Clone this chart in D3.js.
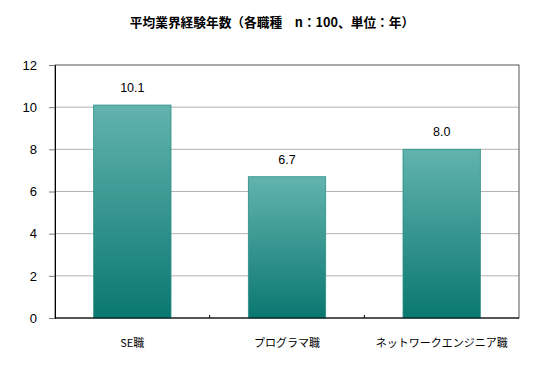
<!DOCTYPE html>
<html>
<head>
<meta charset="utf-8">
<script src="https://cdn.jsdelivr.net/npm/d3@7"></script>
<style>
  body { margin: 0; background: #fff; }
  text { font-family: "Noto Sans CJK JP", sans-serif; }
</style>
</head>
<body>
<div id="chart"></div>
<script>
var titleText = "平均業界経験年数（各職種　n：100、単位：年）";
var categories = ["SE職", "プログラマ職", "ネットワークエンジニア職"];
var values = [10.1, 6.7, 8.0];
var yTicks = [0, 2, 4, 6, 8, 10, 12];

var width = 550, height = 370,
    margin = { top: 65, left: 55, right: 31, bottom: 52 };
var plotW = width - margin.left - margin.right,
    plotH = height - margin.top - margin.bottom;

var svg = d3.select("#chart").append("svg")
    .attr("width", width)
    .attr("height", height);

// gradient for bars, light at top and dark at bottom
var grad = svg.append("defs").append("linearGradient")
    .attr("id", "barGrad")
    .attr("x1", 0).attr("y1", 0).attr("x2", 0).attr("y2", 1);
grad.append("stop").attr("offset", "0%").attr("stop-color", "#62b3ae");
grad.append("stop").attr("offset", "100%").attr("stop-color", "#0a7870");

svg.append("text")
    .attr("x", width / 2 - 3)
    .attr("y", 27)
    .attr("text-anchor", "middle")
    .style("font-size", "12.7px")
    .style("font-weight", "bold")
    .text(titleText);

var g = svg.append("g").attr("transform", "translate(" + margin.left + "," + margin.top + ")");

var x = d3.scaleBand().domain(categories).range([0, plotW]).paddingInner(0.5).paddingOuter(0.25);
var y = d3.scaleLinear().domain([0, 12]).range([plotH, 0]);

// gridlines
g.selectAll(".grid").data(yTicks.filter(function(d) { return d > 0 && d < 12; }))
  .enter().append("line")
    .attr("x1", 0).attr("x2", plotW)
    .attr("y1", function(d) { return y(d); })
    .attr("y2", function(d) { return y(d); })
    .attr("stroke", "#b4b4b4")
    .attr("stroke-width", 1);

// frame
g.append("rect")
    .attr("x", 0).attr("y", 0)
    .attr("width", plotW).attr("height", plotH)
    .attr("fill", "none")
    .attr("stroke", "#555")
    .attr("stroke-width", 1);

// bars
g.selectAll(".bar").data(values)
  .enter().append("rect")
    .attr("x", function(d, i) { return x(categories[i]); })
    .attr("y", function(d) { return y(d); })
    .attr("width", x.bandwidth())
    .attr("height", function(d) { return plotH - y(d); })
    .attr("fill", "url(#barGrad)")
    .attr("stroke", "#2a8f88")
    .attr("stroke-width", 0.8);

// value labels
g.selectAll(".val").data(values)
  .enter().append("text")
    .attr("x", function(d, i) { return x(categories[i]) + x.bandwidth() / 2; })
    .attr("y", function(d) { return y(d) - 13; })
    .attr("text-anchor", "middle")
    .style("font-size", "12.5px")
    .style("font-family", "Arial, 'Liberation Sans', sans-serif")
    .text(function(d) { return d.toFixed(1); });

// y axis
var yAxis = g.append("g")
    .call(d3.axisLeft(y).tickValues(yTicks).tickSize(6).tickPadding(12));
yAxis.select(".domain").attr("stroke", "#000");
yAxis.selectAll(".tick line").attr("stroke", "#777");
yAxis.selectAll("text")
    .style("font-size", "13px")
    .style("font-family", "Arial, 'Liberation Sans', sans-serif")
    .attr("fill", "#000");

// x axis (category separators as small ticks)
var step = x.step();
var xAxis = g.append("g").attr("transform", "translate(0," + plotH + ")");
xAxis.append("line").attr("x1", 0).attr("x2", plotW).attr("stroke", "#000");
xAxis.selectAll(".sep").data(categories.slice(1))
  .enter().append("line")
    .attr("x1", function(d) { return x(d) - x.paddingInner() * step / 2; })
    .attr("x2", function(d) { return x(d) - x.paddingInner() * step / 2; })
    .attr("y1", 0).attr("y2", -3)
    .attr("stroke", "#000");
xAxis.selectAll(".cat").data(categories)
  .enter().append("text")
    .attr("x", function(d) { return x(d) + x.bandwidth() / 2; })
    .attr("y", 29)
    .attr("text-anchor", "middle")
    .style("font-size", "11px")
    .text(function(d) { return d; });
</script>
</body>
</html>
